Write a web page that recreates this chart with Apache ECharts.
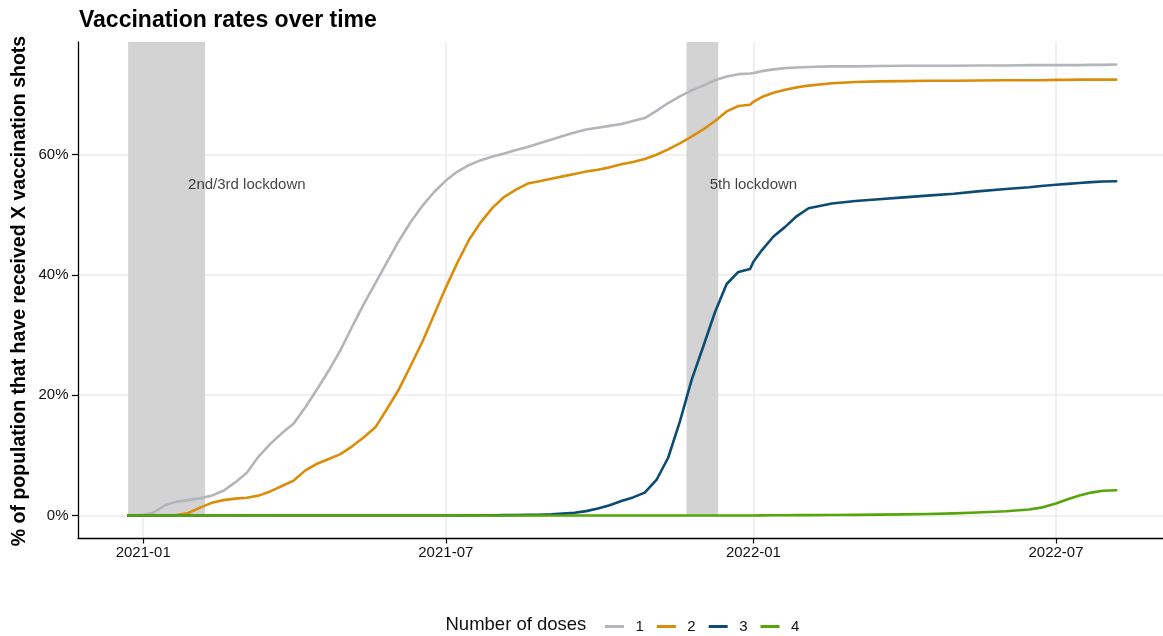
<!DOCTYPE html>
<html>
<head>
<meta charset="utf-8">
<title>Vaccination rates over time</title>
<script src="https://cdn.jsdelivr.net/npm/echarts@6/dist/echarts.min.js"></script>
<style>
html, body { margin: 0; padding: 0; background: #fff; }
#chart { width: 1163px; height: 636px; }
</style>
</head>
<body>
<div id="chart"></div>
<script>
// dates of the readings
var dates = [
	'2020-12-23', '2020-12-27', '2021-01-01', '2021-01-07', '2021-01-14', '2021-01-21', '2021-01-28', '2021-02-04', '2021-02-11', '2021-02-18',
	'2021-02-25', '2021-03-04', '2021-03-11', '2021-03-18', '2021-03-25', '2021-04-01', '2021-04-08', '2021-04-15', '2021-04-22', '2021-04-29',
	'2021-05-06', '2021-05-13', '2021-05-20', '2021-05-27', '2021-06-03', '2021-06-10', '2021-06-17', '2021-06-24', '2021-07-01', '2021-07-08',
	'2021-07-15', '2021-07-22', '2021-07-29', '2021-08-05', '2021-08-12', '2021-08-19', '2021-08-26', '2021-09-02', '2021-09-09', '2021-09-16',
	'2021-09-23', '2021-09-30', '2021-10-07', '2021-10-14', '2021-10-21', '2021-10-28', '2021-11-04', '2021-11-11', '2021-11-18', '2021-11-25',
	'2021-12-02', '2021-12-09', '2021-12-16', '2021-12-23', '2021-12-30', '2022-01-01', '2022-01-06', '2022-01-13', '2022-01-20', '2022-01-27',
	'2022-02-03', '2022-02-17', '2022-03-03', '2022-03-17', '2022-04-01', '2022-04-15', '2022-05-01', '2022-05-15', '2022-06-01', '2022-06-15',
	'2022-06-22', '2022-07-01', '2022-07-08', '2022-07-15', '2022-07-22', '2022-07-29', '2022-08-06'
];
// % of population, by number of doses
var dose1 = [
	0, 0, 0.1, 0.45, 1.7, 2.3, 2.55, 2.85, 3.3, 4.1,
	5.5, 7.1, 9.8, 11.9, 13.7, 15.3, 18.0, 21.0, 24.1, 27.5,
	31.4, 35.2, 38.7, 42.2, 45.7, 48.8, 51.5, 53.8, 55.7, 57.2,
	58.3, 59.1, 59.7, 60.2, 60.8, 61.3, 61.9, 62.5, 63.1, 63.7,
	64.2, 64.5, 64.8, 65.1, 65.6, 66.1, 67.3, 68.6, 69.7, 70.7,
	71.5, 72.4, 73.0, 73.4, 73.5, 73.6, 73.9, 74.2, 74.4, 74.5,
	74.6, 74.7, 74.7, 74.75, 74.8, 74.8, 74.8, 74.85, 74.85, 74.9,
	74.9, 74.9, 74.9, 74.9, 74.95, 74.95, 75.0
];
var dose2 = [
	0, 0, 0, 0, 0, 0.05, 0.4, 1.3, 2.1, 2.55,
	2.8, 2.95, 3.3, 4.0, 4.9, 5.8, 7.5, 8.6, 9.4, 10.2,
	11.5, 13.0, 14.7, 17.8, 21.0, 24.9, 28.9, 33.4, 37.9, 42.1,
	45.9, 48.8, 51.2, 53.0, 54.2, 55.2, 55.6, 56.0, 56.4, 56.8,
	57.2, 57.5, 57.9, 58.4, 58.8, 59.3, 60.0, 60.9, 61.9, 63.0,
	64.2, 65.6, 67.2, 68.1, 68.3, 68.8, 69.6, 70.3, 70.8, 71.2,
	71.5, 71.9, 72.1, 72.2, 72.25, 72.3, 72.3, 72.35, 72.4, 72.4,
	72.4, 72.45, 72.45, 72.5, 72.5, 72.5, 72.5
];
var dose3 = [
	0, 0, 0, 0, 0, 0, 0, 0, 0, 0,
	0, 0, 0, 0, 0, 0, 0, 0, 0, 0,
	0, 0, 0, 0, 0, 0, 0, 0, 0, 0,
	0.02, 0.03, 0.04, 0.05, 0.07, 0.1, 0.12, 0.18, 0.3, 0.45,
	0.72, 1.15, 1.7, 2.4, 3.0, 3.8, 5.9, 9.6, 15.6, 22.5,
	28.1, 33.8, 38.5, 40.5, 41.0, 42.2, 44.1, 46.4, 48.0, 49.8,
	51.1, 51.9, 52.3, 52.6, 52.9, 53.2, 53.5, 53.9, 54.3, 54.6,
	54.8, 55.0, 55.15, 55.3, 55.45, 55.55, 55.6
];
var dose4 = [
	0, 0, 0, 0, 0, 0, 0, 0, 0, 0,
	0, 0, 0, 0, 0, 0, 0, 0, 0, 0,
	0, 0, 0, 0, 0, 0, 0, 0, 0, 0,
	0, 0, 0, 0, 0, 0, 0, 0, 0, 0,
	0, 0, 0, 0, 0, 0, 0, 0, 0, 0,
	0, 0, 0, 0, 0, 0, 0.02, 0.03, 0.04, 0.05,
	0.06, 0.08, 0.1, 0.13, 0.18, 0.25, 0.35, 0.5, 0.7, 1.0,
	1.3, 2.0, 2.7, 3.3, 3.8, 4.1, 4.2
];
var doseNames = ['1', '2', '3', '4'];
var doseColors = ['#B3B5BA', '#DB8D0A', '#0D4B73', '#56A60B'];

// lockdown periods
var lockdownStart = ['2020-12-23', '2021-11-22'];
var lockdownEnd = ['2021-02-07', '2021-12-11'];
var lockdownLabels = ['2nd/3rd lockdown', '5th lockdown'];
var lockdownLabelDates = ['2021-03-04', '2022-01-01'];
var lockdownLabelValue = 55;

// axes
var xTicks = ['2021-01-01', '2021-07-01', '2022-01-01', '2022-07-01'];
var yTicks = [0, 20, 40, 60];
var xMin = '2020-11-23';
var xMax = '2022-09-03';
var yMin = -3.75;
var yMax = 78.75;

var FONT = '"Liberation Sans", Arial, Helvetica, sans-serif';
var myChart;

$ready(function() {
	myChart = echarts.init(document.getElementById('chart'), null, { renderer: 'canvas' });
	chartSetting();
});

function $ready(fn) {
	if (document.readyState !== 'loading') fn();
	else document.addEventListener('DOMContentLoaded', fn);
}

// 'YYYY-MM-DD' -> timestamp (UTC, so it stays the same everywhere)
function toTime(s) {
	var p = s.split('-');
	return Date.UTC(+p[0], +p[1] - 1, +p[2]);
}

function chartSetting() {
	var allDoses = [dose1, dose2, dose3, dose4];
	var xTickValues = xTicks.map(toTime);

	// bands + their labels
	var areas = [];
	for (var i = 0; i < lockdownStart.length; i++) {
		areas.push([{ xAxis: toTime(lockdownStart[i]), yAxis: 0 }, { xAxis: toTime(lockdownEnd[i]), yAxis: yMax }]);
	}
	var labelData = [];
	for (var j = 0; j < lockdownLabels.length; j++) {
		labelData.push({ value: [toTime(lockdownLabelDates[j]), lockdownLabelValue], name: lockdownLabels[j] });
	}

	var series = [{
		name: 'bands',
		type: 'line',
		data: [],
		z: 1,
		silent: true,
		markArea: {
			silent: true,
			itemStyle: { color: '#D3D3D3', opacity: 1 },
			data: areas
		}
	}, {
		name: 'labels',
		type: 'scatter',
		z: 3,
		silent: true,
		symbolSize: 0.1,
		itemStyle: { color: 'transparent' },
		label: {
			show: true,
			position: 'inside',
			formatter: '{b}',
			color: '#111',
			fontFamily: FONT,
			fontSize: 15
		},
		data: labelData
	}];
	for (var k = 0; k < allDoses.length; k++) {
		var vals = allDoses[k];
		series.push({
			name: doseNames[k],
			type: 'line',
			z: 4 + k,
			showSymbol: false,
			symbol: 'none',
			color: doseColors[k],
			lineStyle: { width: 2.6, color: doseColors[k], cap: 'round', join: 'round' },
			data: dates.map(function(d, n) { return [toTime(d), vals[n]]; })
		});
	}

	var option = {
		animation: false,
		backgroundColor: '#ffffff',
		grid: { left: 78, right: 0, top: 42, bottom: 98, containLabel: false },
		xAxis: {
			type: 'value',
			min: toTime(xMin),
			max: toTime(xMax),
			axisLine: { show: true, onZero: false, lineStyle: { color: '#000', width: 1.3 } },
			axisTick: { show: true, length: 5.5, lineStyle: { color: '#000', width: 1.2 }, customValues: xTickValues },
			axisLabel: {
				customValues: xTickValues,
				margin: 7.5,
				color: '#111',
				fontFamily: FONT,
				fontSize: 15,
				formatter: function(v) {
					var d = new Date(v);
					var m = d.getUTCMonth() + 1;
					return d.getUTCFullYear() + '-' + (m < 10 ? '0' + m : m);
				}
			},
			splitLine: { show: true, lineStyle: { color: '#EBEBEB', width: 1.5 } }
		},
		yAxis: {
			type: 'value',
			min: yMin,
			max: yMax,
			axisLine: { show: true, onZero: false, lineStyle: { color: '#000', width: 1.3 } },
			axisTick: { show: true, length: 6, lineStyle: { color: '#000', width: 1.2 }, customValues: yTicks },
			axisLabel: {
				customValues: yTicks,
				margin: 9.5,
				color: '#111',
				fontFamily: FONT,
				fontSize: 15,
				formatter: '{value}%'
			},
			splitLine: { show: true, lineStyle: { color: '#EBEBEB', width: 1.5 } }
		},
		legend: {
			data: doseNames,
			left: 600,
			top: 614,
			icon: 'rect',
			itemWidth: 19,
			itemHeight: 3,
			itemGap: 13,
			selectedMode: false,
			textStyle: { fontFamily: FONT, fontSize: 15, color: '#111', padding: [0, 0, 0, 6.5] }
		},
		graphic: [{
			type: 'text',
			left: 79,
			top: 9,
			style: { text: 'Vaccination rates over time', font: 'bold 23px ' + FONT, fill: '#000' }
		}, {
			type: 'text',
			x: 20,
			y: 291,
			rotation: Math.PI / 2,
			style: {
				text: '% of population that have received X vaccination shots',
				font: 'bold 19.5px ' + FONT,
				fill: '#000',
				align: 'center',
				verticalAlign: 'middle'
			}
		}, {
			type: 'text',
			x: 445.5,
			y: 625,
			style: { text: 'Number of doses', font: '18.5px ' + FONT, fill: '#111', verticalAlign: 'middle' }
		}],
		series: series
	};
	myChart.setOption(option);
	window.onresize = myChart.resize;
}
</script>
</body>
</html>
